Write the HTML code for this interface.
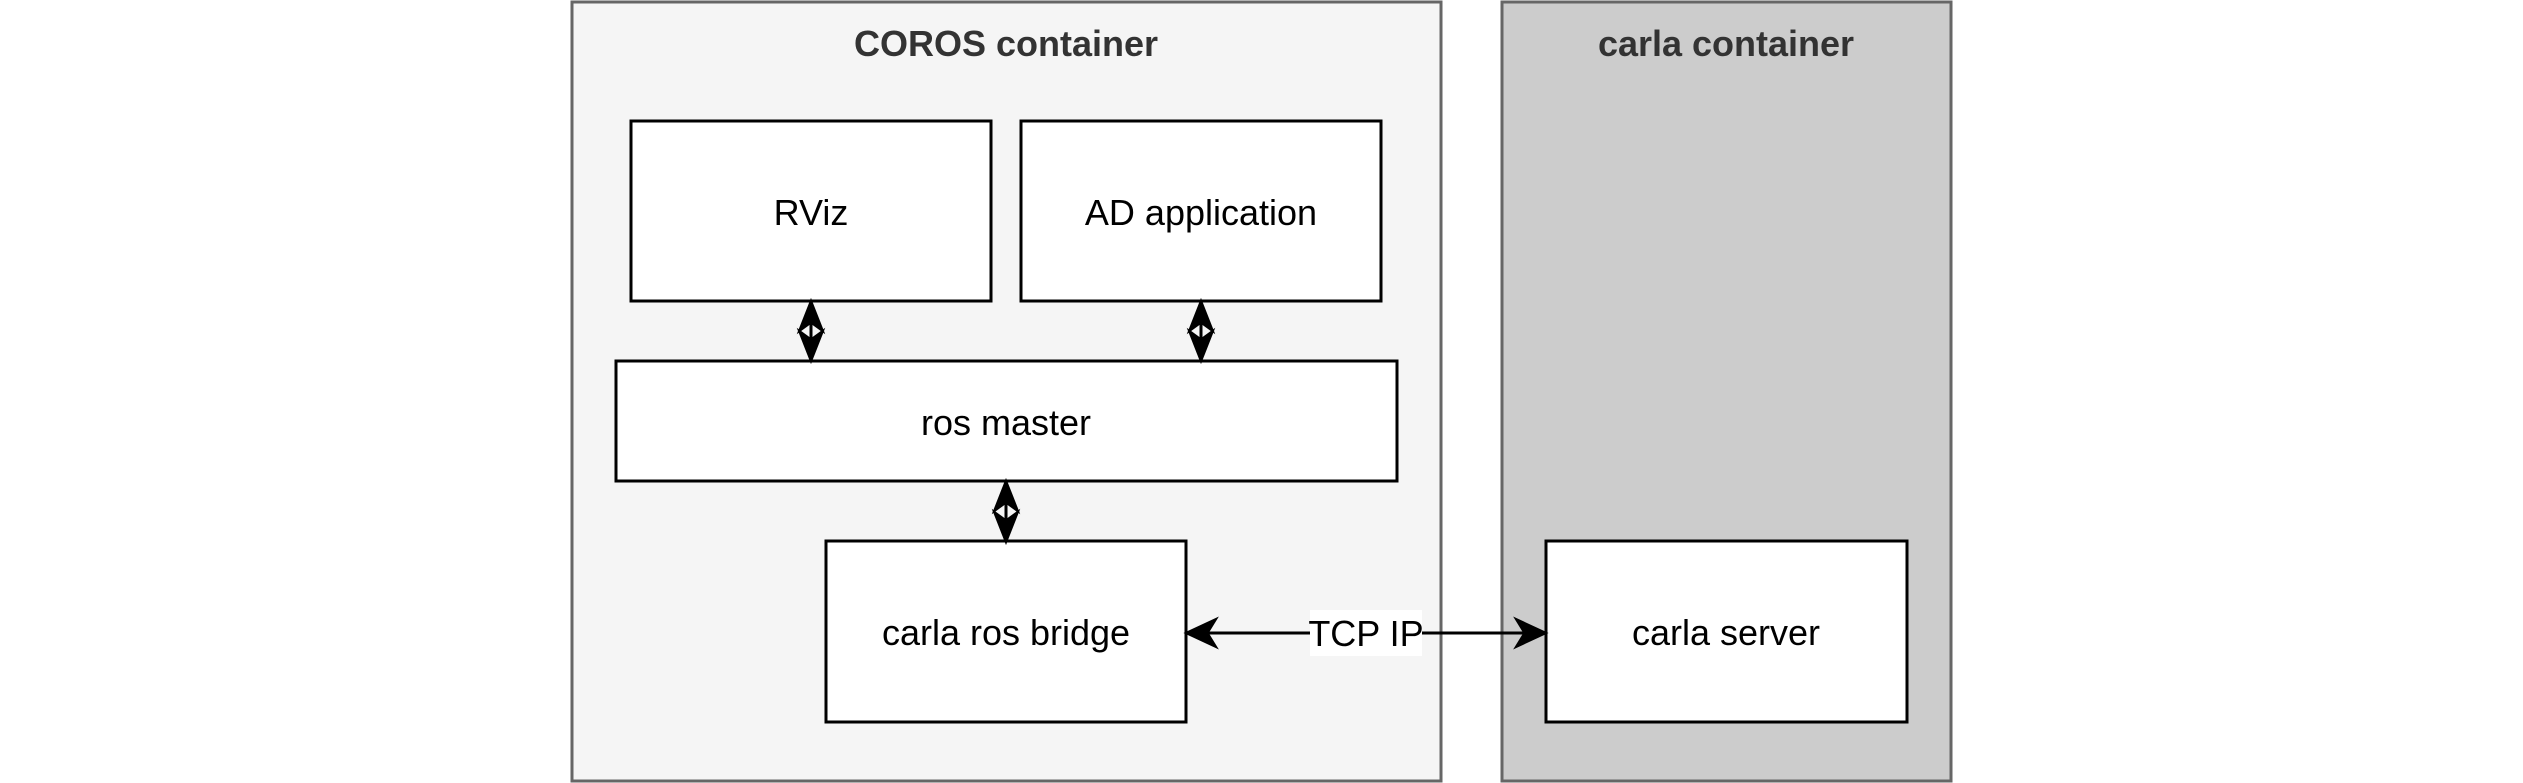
<!DOCTYPE html>
<html><head><meta charset="utf-8"><style>
body{margin:0;background:#fff;}
svg{display:block}
text{font-family:"Liberation Sans",Arial,sans-serif;}
</style></head><body>
<svg width="2523" height="783" viewBox="0 0 2523 783" xmlns="http://www.w3.org/2000/svg">
<rect x="572" y="2" width="869" height="779" fill="#f5f5f5" stroke="#666" stroke-width="3"/>
<rect x="1502" y="2" width="449" height="779" fill="#cccccc" stroke="#666" stroke-width="3"/>
<text x="1006" y="56" font-size="36" font-weight="bold" fill="#333" text-anchor="middle">COROS container</text>
<text x="1726" y="56" font-size="36" font-weight="bold" fill="#333" text-anchor="middle">carla container</text>
<g fill="#fff" stroke="#000" stroke-width="3">
<rect x="631" y="121" width="360" height="180"/>
<rect x="1021" y="121" width="360" height="180"/>
<rect x="616" y="361" width="781" height="120"/>
<rect x="826" y="541" width="360" height="181"/>
<rect x="1546" y="541" width="361" height="181"/>
</g>
<g font-size="36" fill="#000" text-anchor="middle">
<text x="811" y="225">RViz</text>
<text x="1201" y="225">AD application</text>
<text x="1006" y="435">ros master</text>
<text x="1006" y="645">carla ros bridge</text>
<text x="1726" y="645">carla server</text>
</g>
<g stroke="#000" stroke-width="3" fill="#000">
<line x1="811" y1="318" x2="811" y2="343"/>
<path d="M811 302 L822 330 L811 322 L800 330 Z"/>
<path d="M811 360 L822 332 L811 340 L800 332 Z"/>
<line x1="1201" y1="318" x2="1201" y2="343"/>
<path d="M1201 302 L1212 330 L1201 322 L1190 330 Z"/>
<path d="M1201 360 L1212 332 L1201 340 L1190 332 Z"/>
<line x1="1006" y1="498" x2="1006" y2="523"/>
<path d="M1006 482 L1017 510 L1006 502 L995 510 Z"/>
<path d="M1006 541 L1017 513 L1006 521 L995 513 Z"/>
<line x1="1200" y1="633" x2="1530" y2="633"/>
<path d="M1187 633 L1215 620 L1207 633 L1215 646 Z"/>
<path d="M1545 633 L1517 620 L1525 633 L1517 646 Z"/>
</g>
<rect x="1310" y="610" width="112" height="46" fill="#fff"/>
<text x="1366" y="646" font-size="36" fill="#000" text-anchor="middle">TCP IP</text>
</svg>
</body></html>
